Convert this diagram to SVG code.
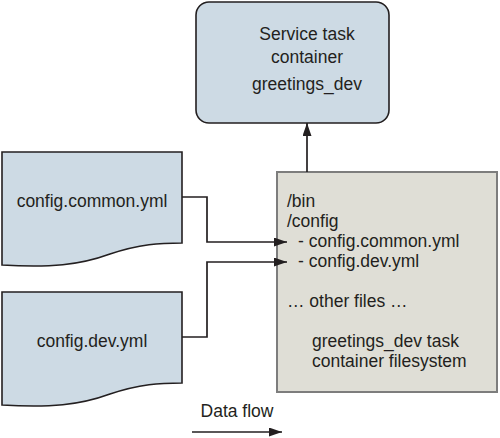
<svg xmlns="http://www.w3.org/2000/svg" width="500" height="438" viewBox="0 0 500 438">
<style>
text{font-family:"Liberation Sans",Arial,sans-serif;font-size:17.5px;fill:#231f20}
.c{text-anchor:middle}
.blue{fill:#cddae4;stroke:#231f20;stroke-width:1.6}
.gray{fill:#dfded6;stroke:#7d7d7d;stroke-width:2}
.conn{fill:none;stroke:#231f20;stroke-width:1.7}
</style>
<defs>
<marker id="ah" markerUnits="userSpaceOnUse" markerWidth="13" markerHeight="9" refX="13" refY="4.5" orient="auto">
<path d="M0,0 L13,4.5 L0,9 Z" fill="#231f20"/>
</marker>
</defs>
<rect width="500" height="438" fill="#ffffff"/>
<g id="service">
<rect class="blue" x="196" y="2" width="193" height="121" rx="13" ry="13"/>
<text class="c" x="307" y="40">Service task</text>
<text class="c" x="307" y="63">container</text>
<text class="c" x="307" y="90">greetings_dev</text>
</g>
<g id="filesystem">
<rect class="gray" x="277" y="172" width="220" height="220"/>
<text x="287" y="207">/bin</text>
<text x="287" y="227">/config</text>
<text x="298" y="247">- config.common.yml</text>
<text x="298" y="267">- config.dev.yml</text>
<text x="287" y="307">… other files …</text>
<text x="312" y="347">greetings_dev task</text>
<text x="312" y="367">container filesystem</text>
</g>
<g id="common">
<path class="blue" d="M2,152 H182 V243 C160,243 140,244 110,254 C80,265 50,268 2,265 Z"/>
<text class="c" x="92" y="207">config.common.yml</text>
</g>
<g id="dev">
<path class="blue" d="M2,292 H182 V383 C160,383 140,384 110,394 C80,405 50,408 2,405 Z"/>
<text class="c" x="92" y="347">config.dev.yml</text>
</g>
<g id="legend">
<text class="c" x="237" y="417">Data flow</text>
</g>
<g id="connectors">
<path class="conn" d="M307,172 V123" marker-end="url(#ah)"/>
<path class="conn" d="M182,197 H207 V242 H287" marker-end="url(#ah)"/>
<path class="conn" d="M182,337 H207 V262 H287" marker-end="url(#ah)"/>
<path class="conn" d="M192,432 H282" marker-end="url(#ah)"/>
</g>
</svg>
